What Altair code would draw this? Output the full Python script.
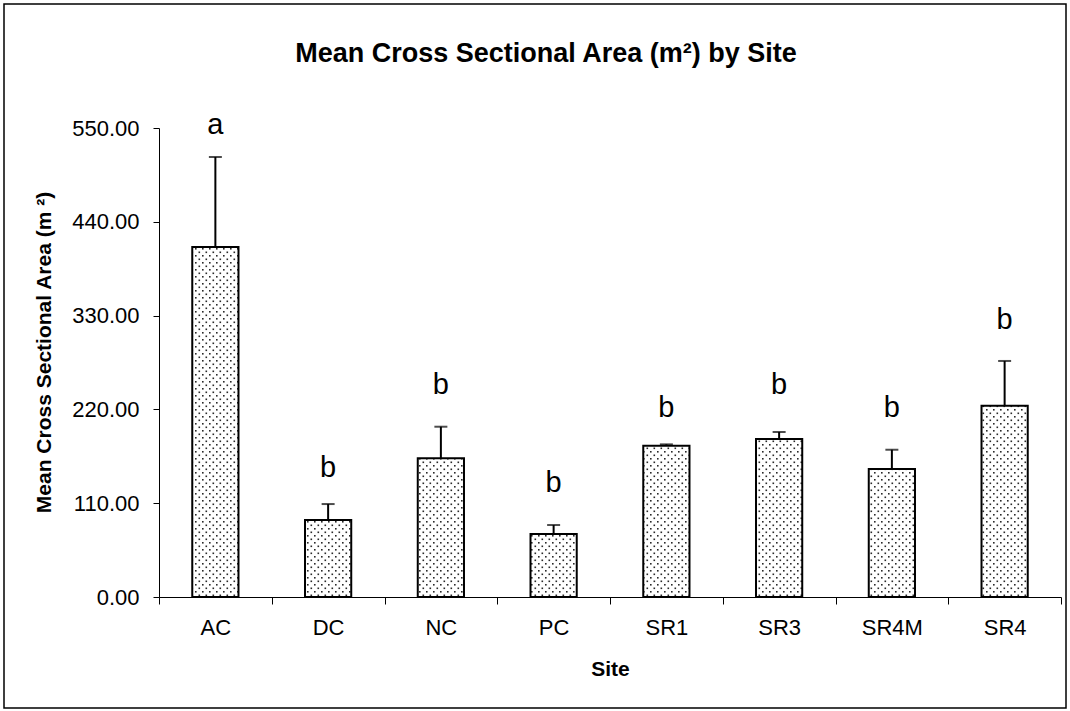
import altair as alt
import pandas as pd

sites = ["AC", "DC", "NC", "PC", "SR1", "SR3", "SR4M", "SR4"]
means = [410.5, 90.3, 162.6, 73.9, 177.5, 185.3, 150.1, 224.4]
errors = [105.5, 18.7, 37.1, 10.5, 1.5, 8.2, 22.6, 52.4]
letters = ["a", "b", "b", "b", "b", "b", "b", "b"]
letter_pos = [543, 141, 238, 123.5, 210.7, 237.7, 210.7, 314]

df = pd.DataFrame({
    "site": sites,
    "mean": means,
    "upper": [m + e for m, e in zip(means, errors)],
    "letter": letters,
    "lpos": letter_pos,
})

FONT = "Liberation Sans"

x = alt.X("site:N", sort=sites, title="Site",
          scale=alt.Scale(paddingInner=0, paddingOuter=0),
          axis=alt.Axis(labelAngle=0, tickBand="extent", tickSize=7,
                        tickColor="black", domainColor="black",
                        labelFont=FONT, labelFontSize=22, labelColor="black",
                        labelPadding=13, titleFont=FONT, titleFontSize=21,
                        titleFontWeight="bold", titleColor="black",
                        titlePadding=20))
y = alt.Y("mean:Q", title="Mean Cross Sectional Area (m ²)",
          scale=alt.Scale(domain=[0, 550], nice=False),
          axis=alt.Axis(values=[0, 110, 220, 330, 440, 550], format=".2f",
                        grid=False, tickSize=6, tickColor="black",
                        domainColor="black", labelFont=FONT, labelFontSize=22,
                        labelColor="black", labelPadding=14,
                        titleFont=FONT, titleFontSize=21,
                        titleFontWeight="bold", titleColor="black",
                        titlePadding=17, titleY=224))

base = alt.Chart(df)

bars = base.mark_bar(fill="url(#dots) #d0d0d0", stroke="black", strokeWidth=2,
                     width={"band": 0.41}).encode(x=x, y=y)
err = base.mark_rule(color="black", strokeWidth=2).encode(
    x=alt.X("site:N", sort=sites), y="mean:Q", y2="upper:Q")
cap = base.mark_tick(color="black", thickness=2, size=13, orient="horizontal").encode(
    x=alt.X("site:N", sort=sites), y="upper:Q")
txt = base.mark_text(font=FONT, fontSize=29, color="black",
                     baseline="alphabetic").encode(
    x=alt.X("site:N", sort=sites), y="lpos:Q", text="letter:N")

one = pd.DataFrame({"t": ["Mean Cross Sectional Area (m²) by Site"]})
title = alt.Chart(one).mark_text(font=FONT, fontSize=27, fontWeight="bold",
                                 color="black", baseline="middle", align="center").encode(
    x=alt.value(387), y=alt.value(-74), text="t:N")
border = alt.Chart(one).mark_rect(
    fill="transparent", stroke="black", strokeWidth=1.5).encode(
    x=alt.value(-155), x2=alt.value(907), y=alt.value(-124), y2=alt.value(580))

chart = alt.layer(border, bars, err, cap, txt, title).properties(
    width=902, height=469,
    autosize=alt.AutoSizeParams(type="none"),
    padding={"left": 159, "top": 128, "right": 9, "bottom": 114},
).configure(background="white").configure_view(stroke=None)

chart.save("out.html", embed_options={"renderer": "svg", "actions": False})

defs = ('<svg width="0" height="0" style="position:absolute"><defs>'
        '<pattern id="dots" width="7" height="7" patternUnits="userSpaceOnUse">'
        '<rect width="7" height="7" fill="white"/>'
        '<rect x="1" y="1" width="1.6" height="1.6" fill="#2a2a2a"/>'
        '<rect x="4.5" y="4.5" width="1.6" height="1.6" fill="#2a2a2a"/>'
        '</pattern></defs></svg>')
with open("out.html", encoding="utf-8") as f:
    html = f.read()
html = html.replace("<body>", '<body style="margin:0">' + defs, 1)
with open("out.html", "w", encoding="utf-8") as f:
    f.write(html)
